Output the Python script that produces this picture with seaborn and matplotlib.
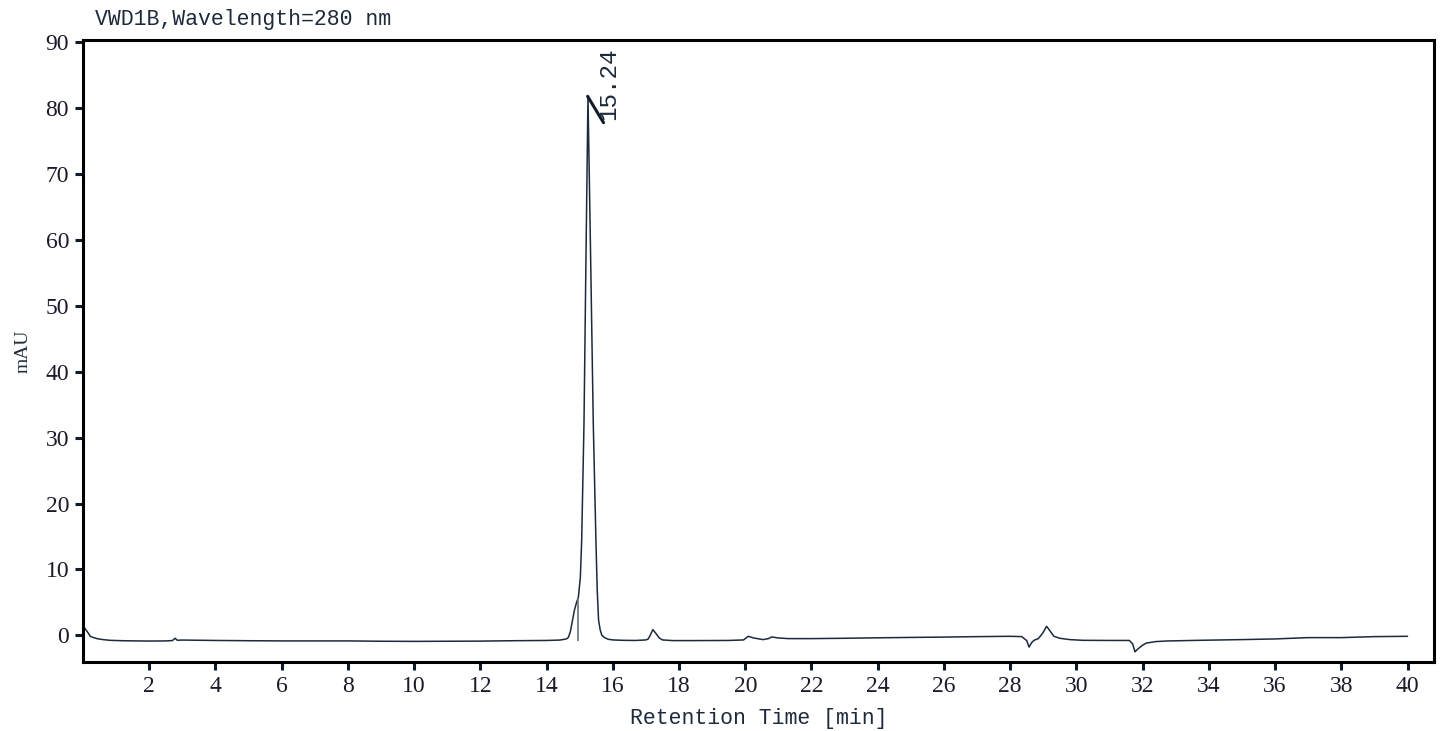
import matplotlib
matplotlib.use("Agg")
import matplotlib.pyplot as plt
import seaborn as sns
import pandas as pd

# trace (min, mAU)
times = [0.05, 0.15, 0.22, 0.32, 0.42, 0.6, 0.82, 1.2, 1.6, 2.0, 2.5, 2.7, 2.78, 2.85, 3.0,
         4.0, 5.0, 6.0, 7.0, 8.0, 9.0, 10.0, 11.0, 12.0, 13.0, 14.0, 14.4, 14.6, 14.66, 14.72,
         14.78, 14.84, 14.9, 14.96, 15.02, 15.06, 15.13, 15.19, 15.25, 15.33, 15.41, 15.49, 15.53,
         15.57, 15.62, 15.67, 15.75, 15.86, 16.0, 16.3, 16.7, 17.0, 17.07, 17.14, 17.21, 17.3,
         17.4, 17.5, 17.8, 18.5, 19.5, 19.95, 20.09, 20.25, 20.54, 20.7, 20.8, 21.0, 21.3, 22.0,
         23.0, 24.0, 25.0, 26.0, 27.0, 28.0, 28.35, 28.5, 28.57, 28.65, 28.72, 28.85, 28.98, 29.1,
         29.2, 29.32, 29.5, 29.8, 30.2, 31.0, 31.6, 31.7, 31.77, 31.85, 32.0, 32.12, 32.4, 32.73,
         33.7, 35.0, 36.0, 36.5, 37.0, 38.0, 39.0, 40.0]
mau = [1.1, 0.4, -0.15, -0.35, -0.5, -0.65, -0.76, -0.82, -0.85, -0.87, -0.85, -0.8, -0.45, -0.75, -0.72,
       -0.78, -0.82, -0.85, -0.85, -0.85, -0.9, -0.92, -0.9, -0.88, -0.82, -0.78, -0.72, -0.55, -0.3, 0.6,
       2.2, 3.8, 4.9, 5.8, 8.8, 14.4, 32.2, 57.4, 81.8, 57.4, 32.2, 14.4, 6.8,
       2.3, 0.8, 0.0, -0.35, -0.6, -0.7, -0.76, -0.78, -0.7, -0.55, 0.1, 0.87, 0.3,
       -0.4, -0.7, -0.8, -0.8, -0.78, -0.7, -0.15, -0.4, -0.65, -0.5, -0.25, -0.4, -0.5, -0.5,
       -0.45, -0.38, -0.32, -0.27, -0.2, -0.15, -0.2, -0.8, -1.78, -1.1, -0.76, -0.5, 0.3, 1.37,
       0.7, -0.15, -0.45, -0.65, -0.76, -0.78, -0.78, -1.3, -2.5, -2.1, -1.5, -1.17, -0.95, -0.86,
       -0.76, -0.65, -0.55, -0.45, -0.35, -0.35, -0.2, -0.15]

peak_rt = 15.24
peak_label = "15.24"
peak_top = 81.8
split_rt = 14.96
split_range = (-0.8, 5.6)

x_ticks = list(range(2, 41, 2))
y_ticks = list(range(0, 91, 10))

df = pd.DataFrame({"Retention Time [min]": times, "mAU": mau})

sns.set_style("ticks")
plt.rcParams["font.family"] = ["Liberation Serif", "DejaVu Serif"]
mono = ["Liberation Mono", "DejaVu Sans Mono"]

fig = plt.figure(figsize=(14.45, 7.31), dpi=100)
ax = fig.add_axes([83 / 1445, 69 / 731, (1434 - 83) / 1445, (662 - 40) / 731])

sns.lineplot(data=df, x="Retention Time [min]", y="mAU", ax=ax, sort=False,
             estimator=None, color="#1c2a3c", linewidth=1.1)

# integration split marker and peak label
ax.vlines(split_rt, split_range[0], split_range[1], color="#6a6f78", linewidth=1.2)
ax.plot([peak_rt, peak_rt + 0.48], [peak_top, peak_top - 4.0], color="#0d1b2a", linewidth=2.2)
ax.text(peak_rt + 0.63, peak_top - 3.6, peak_label, rotation=90, ha="center", va="bottom",
        family=mono, fontsize=17.5, color="#1c2a3c")

ax.set_xlim(0, 40.8)
ax.set_ylim(-4.05, 90.35)
ax.set_xticks(x_ticks)
ax.set_yticks(y_ticks)

for s in ax.spines.values():
    s.set_linewidth(2.2)
    s.set_color("black")
ax.tick_params(direction="out", length=6, width=2.2, color="#0d1b2a",
               labelsize=17, labelcolor="#1a1a2a", pad=4)

ax.set_xlabel("Retention Time [min]", family=mono, fontsize=15.5, color="#1c2a3c", labelpad=8)
ax.set_ylabel("mAU", fontsize=14, color="#1c2a3c", labelpad=10)

fig.text(95 / 1445, 1 - 25 / 731, "VWD1B,Wavelength=280 nm", family=mono, fontsize=15.5,
         color="#1c2a3c", ha="left", va="baseline")

fig.savefig("out.png", dpi=100, facecolor="white")
